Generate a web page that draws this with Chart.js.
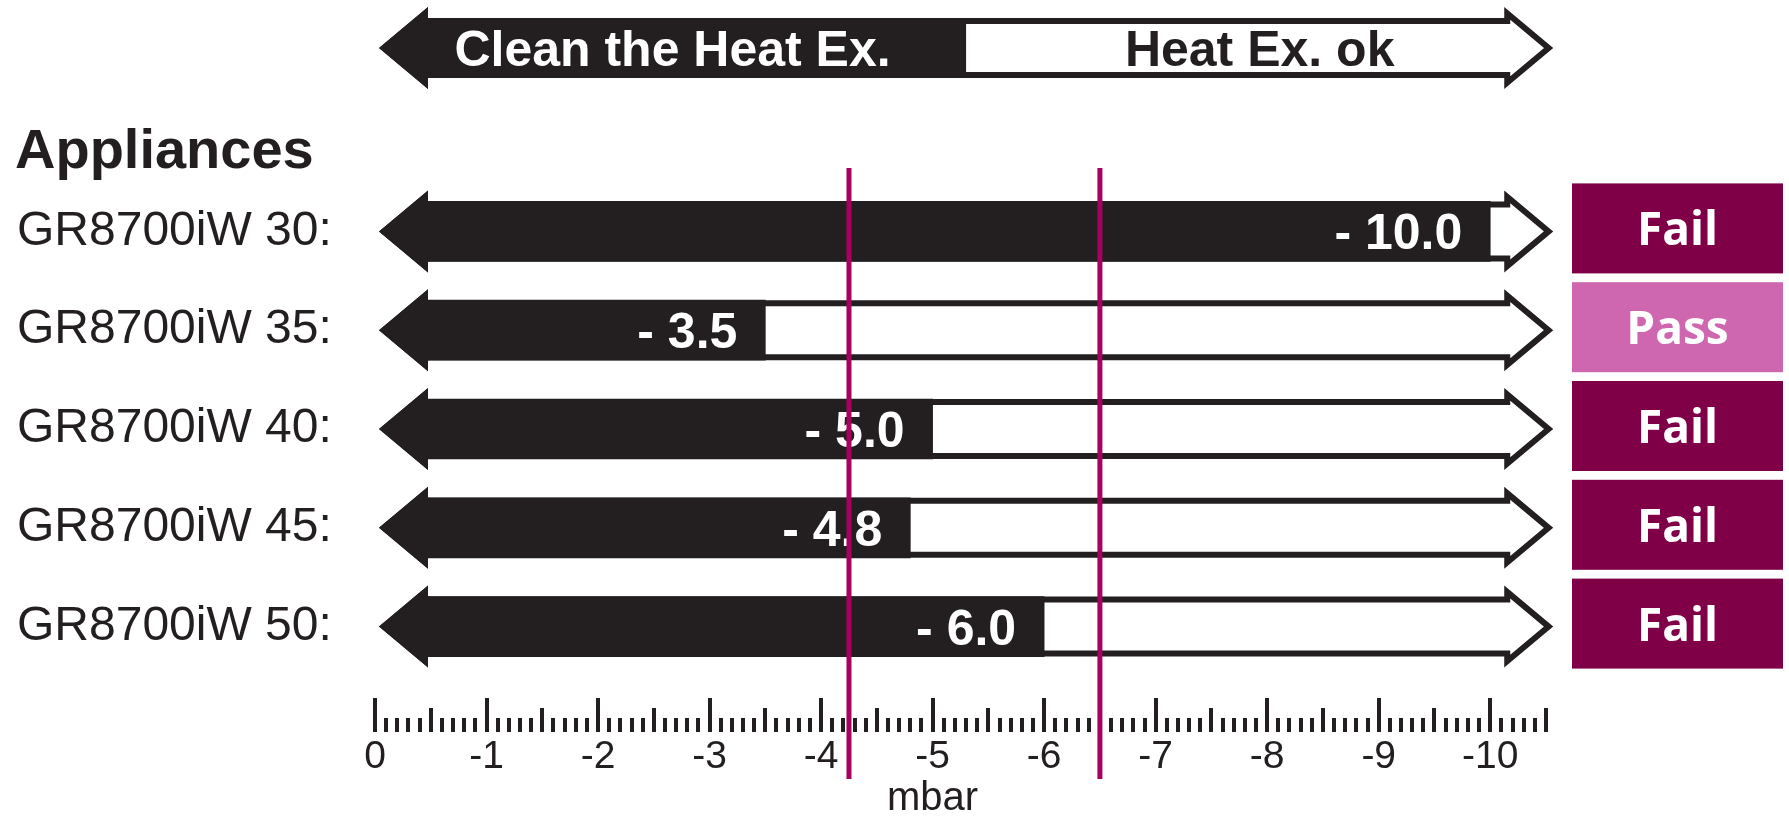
<!DOCTYPE html>
<html><head><meta charset="utf-8">
<script src="https://cdn.jsdelivr.net/npm/chart.js@4.4.1/dist/chart.umd.min.js"></script>
<style>html,body{margin:0;padding:0;background:#fff;overflow:hidden}canvas{display:block}</style>
</head><body>
<canvas id="c" width="1789" height="816"></canvas>
<script>
// ---- data ----
const categories = ['GR8700iW 30:', 'GR8700iW 35:', 'GR8700iW 40:', 'GR8700iW 45:', 'GR8700iW 50:'];
const values = [-10.0, -3.5, -5.0, -4.8, -6.0];
const statuses = ['Fail', 'Pass', 'Fail', 'Fail', 'Fail'];
const thresholds = [-4.25, -6.5];
const tickValues = [0, -1, -2, -3, -4, -5, -6, -7, -8, -9, -10];
const tickLabels = ['0', '-1', '-2', '-3', '-4', '-5', '-6', '-7', '-8', '-9', '-10'];
const headerLabels = ['Clean the Heat Ex.', 'Heat Ex. ok'];
const headerSplit = -5.3;
const groupTitle = 'Appliances';
const axisTitle = 'mbar';
const axisMin = -10.5, axisMax = 0, minorStep = 0.1;
const barBase = -0.47;

// ---- styles ----
const DARK = '#231F20';
const MAGENTA = '#A8005E';
const FAIL = '#800048';
const PASS = '#CF66B0';
const FONT = "'Liberation Sans', Arial, Helvetica, sans-serif";
const BOX_FONT = "'Open Sans', 'Liberation Sans', sans-serif";

function arrowPath(ctx, x0, x10, cy) {
  const lt = x0 + 4, lb = x0 + 53, rb = x10 + 14, rt = x10 + 63;
  const bh = 30, hh = 41;
  ctx.beginPath();
  ctx.moveTo(lt, cy);
  ctx.lineTo(lb, cy - hh);
  ctx.lineTo(lb, cy - bh);
  ctx.lineTo(rb, cy - bh);
  ctx.lineTo(rb, cy - hh);
  ctx.lineTo(rt, cy);
  ctx.lineTo(rb, cy + hh);
  ctx.lineTo(rb, cy + bh);
  ctx.lineTo(lb, cy + bh);
  ctx.lineTo(lb, cy + hh);
  ctx.closePath();
}
function drawOutline(ctx, x0, x10, cy) {
  ctx.save();
  arrowPath(ctx, x0, x10, cy);
  ctx.fillStyle = '#fff';
  ctx.fill();
  ctx.clip();
  ctx.lineWidth = 12;
  ctx.lineJoin = 'miter';
  ctx.strokeStyle = DARK;
  ctx.stroke();
  ctx.restore();
}
function fillLeft(ctx, x0, xEnd, cy) {
  const lt = x0 + 4, lb = x0 + 53, bh = 30, hh = 41;
  ctx.save();
  ctx.fillStyle = DARK;
  ctx.beginPath();
  ctx.moveTo(lt, cy);
  ctx.lineTo(lb, cy - hh);
  ctx.lineTo(lb, cy - bh);
  ctx.lineTo(xEnd, cy - bh);
  ctx.lineTo(xEnd, cy + bh);
  ctx.lineTo(lb, cy + bh);
  ctx.lineTo(lb, cy + hh);
  ctx.closePath();
  ctx.fill();
  ctx.restore();
}

const decorPlugin = {
  id: 'decor',
  beforeDatasetsDraw(chart) {
    const {ctx, scales: {x, y}, chartArea: ca} = chart;
    const x0 = x.getPixelForValue(0), x10 = x.getPixelForValue(-10);
    // header arrow
    const hy = ca.top - 134;
    drawOutline(ctx, x0, x10, hy);
    const xs = x.getPixelForValue(headerSplit);
    fillLeft(ctx, x0, xs, hy);
    ctx.save();
    ctx.font = 'bold 50px ' + FONT;
    ctx.textAlign = 'center';
    ctx.textBaseline = 'alphabetic';
    ctx.fillStyle = '#fff';
    ctx.fillText(headerLabels[0], (x0 + 4 + xs) / 2, hy + 18);
    ctx.fillStyle = DARK;
    ctx.fillText(headerLabels[1], (xs + x10 + 63) / 2, hy + 18);
    ctx.restore();
    // row arrows
    categories.forEach((c, i) => {
      const cy = y.getPixelForValue(i);
      drawOutline(ctx, x0, x10, cy);
      fillLeft(ctx, x0, x0 + 55, cy);
    });
  },
  afterDatasetsDraw(chart) {
    const {ctx, scales: {x, y}, chartArea: ca} = chart;
    ctx.save();
    // value labels
    ctx.font = 'bold 50px ' + FONT;
    ctx.fillStyle = '#fff';
    ctx.textAlign = 'right';
    ctx.textBaseline = 'alphabetic';
    values.forEach((v, i) => {
      const cy = y.getPixelForValue(i);
      ctx.fillText('- ' + Math.abs(v).toFixed(1), x.getPixelForValue(v) - 28, cy + 18);
    });
    // status boxes
    ctx.font = 'bold 46px ' + BOX_FONT;
    ctx.textAlign = 'center';
    statuses.forEach((s, i) => {
      const cy = y.getPixelForValue(i);
      const bx = ca.right + 26, bw = 211, bt = cy - 48, bhgt = 90;
      ctx.fillStyle = s === 'Pass' ? PASS : FAIL;
      ctx.fillRect(bx, bt, bw, bhgt);
      ctx.fillStyle = '#fff';
      ctx.fillText(s, bx + bw / 2, bt + bhgt / 2 + 17);
    });
    // axis tick marks
    ctx.fillStyle = DARK;
    const base = ca.bottom + 56;
    const n = Math.round((axisMax - axisMin) / minorStep);
    for (let k = 0; k <= n; k++) {
      const v = -k * minorStep;
      const px = x.getPixelForValue(v);
      const h = (k % 10 === 0) ? 34 : (k % 5 === 0 ? 24 : 14);
      ctx.fillRect(Math.round(px - 2), base - h, 4, h);
    }
    // axis title
    ctx.font = '40px ' + FONT;
    ctx.textAlign = 'center';
    ctx.fillText(axisTitle, x.getPixelForValue(-5), ca.bottom + 134);
    // group title
    ctx.font = 'bold 56px ' + FONT;
    ctx.textAlign = 'left';
    ctx.fillText(groupTitle, 15, ca.top - 14);
    // threshold lines
    ctx.strokeStyle = MAGENTA;
    ctx.lineWidth = 5;
    thresholds.forEach(t => {
      const px = x.getPixelForValue(t);
      ctx.beginPath();
      ctx.moveTo(px, ca.top - 14);
      ctx.lineTo(px, ca.bottom + 103);
      ctx.stroke();
    });
    ctx.restore();
  }
};

new Chart(document.getElementById('c'), {
  type: 'bar',
  data: {
    labels: categories,
    datasets: [{ data: values, base: barBase, backgroundColor: DARK, borderWidth: 0, barThickness: 60 }]
  },
  options: {
    responsive: false,
    animation: false,
    events: [],
    indexAxis: 'y',
    layout: { padding: { left: 17, right: 243, top: 182, bottom: 0 } },
    plugins: { legend: { display: false }, tooltip: { enabled: false }, title: { display: false } },
    scales: {
      x: {
        type: 'linear', min: axisMin, max: axisMax, reverse: true,
        grid: { display: false, drawTicks: false }, border: { display: false },
        afterBuildTicks: s => { s.ticks = tickValues.map(v => ({ value: v })); },
        afterFit: s => { s.height = 140; },
        ticks: { autoSkip: false, maxRotation: 0, minRotation: 0, padding: 58, color: DARK,
                 font: { family: FONT, size: 39 }, callback: (v, i) => tickLabels[i] }
      },
      y: {
        grid: { display: false, drawTicks: false }, border: { display: false },
        afterFit: s => { s.width = 358; },
        ticks: { crossAlign: 'far', padding: 0, color: DARK, font: { family: FONT, size: 48 } }
      }
    }
  },
  plugins: [decorPlugin]
});
</script>
</body></html>
